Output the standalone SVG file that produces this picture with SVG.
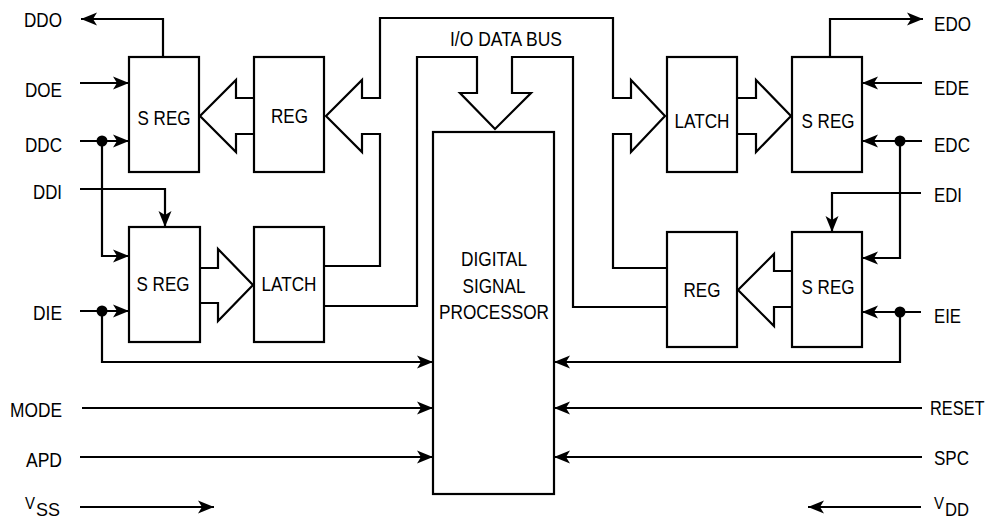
<svg xmlns="http://www.w3.org/2000/svg" width="989" height="521" viewBox="0 0 989 521">
<style>
  .box { fill: #fff; stroke: #000; stroke-width: 2.2; }
  .bus { fill: none; stroke: #000; stroke-width: 2.2; stroke-linejoin: miter; }
  .sig { fill: none; stroke: #000; stroke-width: 2.2; }
  .arr { marker-end: url(#ah); }
  text { font-family: "Liberation Sans", Arial, sans-serif; font-size: 21px; fill: #000; }
  .c { text-anchor: middle; }
  .e { text-anchor: end; }
</style>
<defs>
  <marker id="ah" markerUnits="userSpaceOnUse" viewBox="-18 -8 20 16" markerWidth="20" markerHeight="16" refX="0" refY="0" orient="auto">
    <path d="M0,0 L-16,-6.5 L-12,0 L-16,6.5 Z" fill="#000"/>
  </marker>
</defs>

<g id="connectors">
  <!-- bus outer line -->
  <path class="bus" d="M324,266 L380,266 L380,134 L362,134 L362,152 L326,116 L362,80 L362,98 L380,98 L380,18 L613,18 L613,98 L631,98 L631,80 L665,116 L631,152 L631,134 L613,134 L613,268 L667,268"/>
  <!-- bus inner line -->
  <path class="bus" d="M324,306 L417,306 L417,57 L477,57 L477,93 L460,93 L495,129 L531,93 L512,93 L512,57 L573,57 L573,307 L667,307"/>
  <!-- REG -> S REG (upper left) -->
  <path class="bus" d="M254,98 L236,98 L236,80 L200,116 L236,152 L236,134 L254,134"/>
  <!-- S REG -> LATCH (lower left) -->
  <path class="bus" d="M200,268 L218,268 L218,249 L253,285 L218,321 L218,303 L200,303"/>
  <!-- LATCH -> S REG (upper right) -->
  <path class="bus" d="M737,98 L756,98 L756,80 L791,116 L756,152 L756,134 L737,134"/>
  <!-- S REG -> REG (lower right) -->
  <path class="bus" d="M792,271 L774,271 L774,254 L738,290 L774,326 L774,307 L792,307"/>

  <!-- left signals -->
  <path class="sig arr" d="M163,57 L163,19 L81,19"/>
  <path class="sig arr" d="M80,83 L129,83"/>
  <path class="sig arr" d="M80,141 L129,141"/>
  <path class="sig arr" d="M102,141 L102,256 L129,256"/>
  <path class="sig arr" d="M80,189 L165,189 L165,227"/>
  <path class="sig arr" d="M80,311 L129,311"/>
  <path class="sig arr" d="M102,311 L102,362 L433,362"/>
  <path class="sig arr" d="M82,408 L433,408"/>
  <path class="sig arr" d="M80,457 L433,457"/>
  <path class="sig arr" d="M80,507 L214,507"/>
  <circle cx="102" cy="141" r="5.5" fill="#000"/>
  <circle cx="102" cy="311" r="5.5" fill="#000"/>

  <!-- right signals -->
  <path class="sig arr" d="M830,57 L830,19 L923,19"/>
  <path class="sig arr" d="M922,83 L862,83"/>
  <path class="sig arr" d="M922,141 L862,141"/>
  <path class="sig arr" d="M900,141 L900,258 L862,258"/>
  <path class="sig arr" d="M921,193 L832,193 L832,232"/>
  <path class="sig arr" d="M921,312 L862,312"/>
  <path class="sig arr" d="M900,312 L900,362 L554,362"/>
  <path class="sig arr" d="M922,408 L554,408"/>
  <path class="sig arr" d="M922,457 L554,457"/>
  <path class="sig arr" d="M921,507 L808,507"/>
  <circle cx="900" cy="141" r="5.5" fill="#000"/>
  <circle cx="900" cy="312" r="5.5" fill="#000"/>
</g>

<g id="sreg-dout">
  <rect class="box" x="129" y="57" width="70" height="115"/>
  <text class="c" x="164" y="125" textLength="53" lengthAdjust="spacingAndGlyphs">S REG</text>
</g>
<g id="reg-dout">
  <rect class="box" x="254" y="57" width="70" height="115"/>
  <text class="c" x="289.5" y="123" textLength="37" lengthAdjust="spacingAndGlyphs">REG</text>
</g>
<g id="sreg-din">
  <rect class="box" x="129" y="227" width="71" height="115"/>
  <text class="c" x="163" y="291" textLength="53" lengthAdjust="spacingAndGlyphs">S REG</text>
</g>
<g id="latch-din">
  <rect class="box" x="254" y="227" width="70" height="115"/>
  <text class="c" x="289" y="291" textLength="55" lengthAdjust="spacingAndGlyphs">LATCH</text>
</g>
<g id="dsp">
  <rect class="box" x="433" y="132" width="121" height="362"/>
  <text class="c" x="494" y="266" textLength="66" lengthAdjust="spacingAndGlyphs">DIGITAL</text>
  <text class="c" x="494" y="293" textLength="63" lengthAdjust="spacingAndGlyphs">SIGNAL</text>
  <text class="c" x="494" y="319" textLength="110" lengthAdjust="spacingAndGlyphs">PROCESSOR</text>
</g>
<g id="latch-eout">
  <rect class="box" x="667" y="57" width="70" height="115"/>
  <text class="c" x="702" y="128" textLength="55" lengthAdjust="spacingAndGlyphs">LATCH</text>
</g>
<g id="sreg-eout">
  <rect class="box" x="792" y="57" width="70" height="115"/>
  <text class="c" x="828" y="128" textLength="53" lengthAdjust="spacingAndGlyphs">S REG</text>
</g>
<g id="reg-ein">
  <rect class="box" x="667" y="232" width="70" height="115"/>
  <text class="c" x="702" y="297" textLength="37" lengthAdjust="spacingAndGlyphs">REG</text>
</g>
<g id="sreg-ein">
  <rect class="box" x="792" y="232" width="70" height="115"/>
  <text class="c" x="828" y="294" textLength="53" lengthAdjust="spacingAndGlyphs">S REG</text>
</g>

<g id="labels">
  <text class="c" x="506" y="46" textLength="112" lengthAdjust="spacingAndGlyphs">I/O DATA BUS</text>
  <text class="e" x="62" y="27" textLength="38" lengthAdjust="spacingAndGlyphs">DDO</text>
  <text class="e" x="62" y="97" textLength="37" lengthAdjust="spacingAndGlyphs">DOE</text>
  <text class="e" x="62" y="152" textLength="37" lengthAdjust="spacingAndGlyphs">DDC</text>
  <text class="e" x="62" y="199" textLength="29" lengthAdjust="spacingAndGlyphs">DDI</text>
  <text class="e" x="62" y="320" textLength="29" lengthAdjust="spacingAndGlyphs">DIE</text>
  <text class="e" x="62" y="417" textLength="52" lengthAdjust="spacingAndGlyphs">MODE</text>
  <text class="e" x="62" y="467" textLength="36" lengthAdjust="spacingAndGlyphs">APD</text>
  <text x="25" y="509" style="font-size:17px" textLength="10" lengthAdjust="spacingAndGlyphs">V</text>
  <text x="36" y="516" style="font-size:18px" textLength="24" lengthAdjust="spacingAndGlyphs">SS</text>

  <text x="934" y="31" textLength="37" lengthAdjust="spacingAndGlyphs">EDO</text>
  <text x="934" y="95" textLength="35" lengthAdjust="spacingAndGlyphs">EDE</text>
  <text x="934" y="152" textLength="36" lengthAdjust="spacingAndGlyphs">EDC</text>
  <text x="934" y="202" textLength="28" lengthAdjust="spacingAndGlyphs">EDI</text>
  <text x="934" y="323" textLength="27" lengthAdjust="spacingAndGlyphs">EIE</text>
  <text transform="translate(930,415) scale(0.78,1)" x="0" y="0">RESET</text>
  <text x="934" y="465" textLength="35" lengthAdjust="spacingAndGlyphs">SPC</text>
  <text x="934" y="509" style="font-size:17px" textLength="10" lengthAdjust="spacingAndGlyphs">V</text>
  <text x="945" y="516" style="font-size:18px" textLength="24" lengthAdjust="spacingAndGlyphs">DD</text>
</g>
</svg>
